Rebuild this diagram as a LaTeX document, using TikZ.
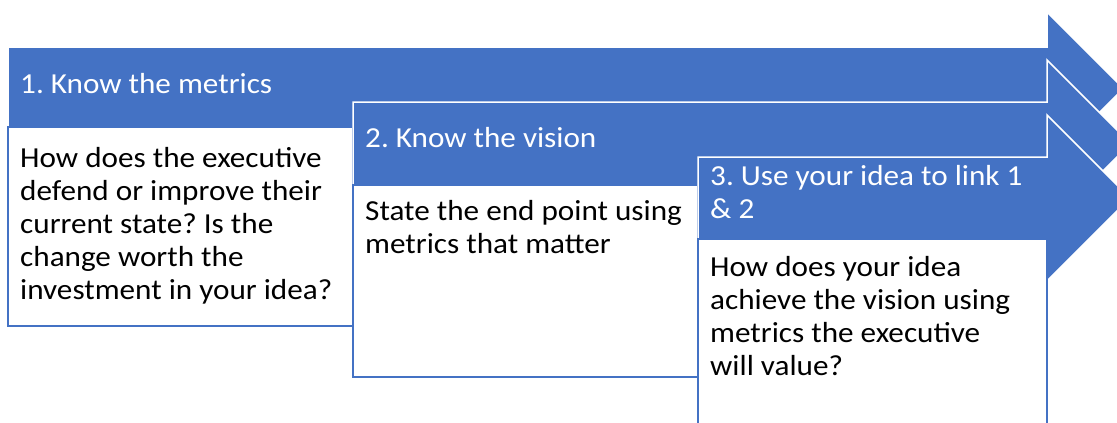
\documentclass[tikz,border=0pt]{standalone}
\usepackage{fontspec}
\setmainfont{Carlito}[FakeStretch=1.075]
\definecolor{officeblue}{HTML}{4472C4}
\frenchspacing

\begin{document}
\begin{tikzpicture}[x=1pt, y=-1pt,
            band/.style={
                fill=officeblue,
                draw=white,
                line width=1.5pt
                },
            descbox/.style={
                fill=white,
                draw=officeblue,
                line width=2pt
                },
            every node/.style={
                inner sep=0pt,
                align=left,
                anchor=base west,
                font=\fontsize{29}{33}\selectfont
                },
            headtext/.style={text=white},
            bodytext/.style={text=black}]

        \clip (0,0) rectangle (1117,423);
        \fill[white] (0,0) rectangle (1117,423);

        % step 1 (multi-line nodes sit on their last baseline)
        \draw[band] (8,47) -- (1047,47) -- (1047,12) -- (1123.5,88.5) -- (1047,165) -- (1047,129) -- (8,129) -- cycle;
        \draw[descbox] (8,127) rectangle (353,326);
        \node[headtext] (h1) at (20,93) {1. Know the metrics};
        \node[bodytext] (b1) at (20,299) {How does the executive\\defend or improve their\\current state? Is the\\change worth the\\investment in your idea?};

        % step 2
        \draw[band] (353,102) -- (1047,102) -- (1047,60) -- (1130.5,143.5) -- (1047,227) -- (1047,185) -- (353,185) -- cycle;
        \draw[descbox] (353,185) rectangle (698,377);
        \node[headtext] (h2) at (365,147) {2. Know the vision};
        \node[bodytext] (b2) at (365,253) {State the end point using\\metrics that matter};

        % step 3
        \draw[band] (698,157) -- (1047,157) -- (1047,115) -- (1130,198) -- (1047,281) -- (1047,239) -- (698,239) -- cycle;
        \draw[descbox] (698,239) rectangle (1047,440);
        \node[headtext] (h3) at (710,218) {3. Use your idea to link 1\\\& 2};
        \node[bodytext] (b3) at (710,375) {How does your idea\\achieve the vision using\\metrics the executive\\will value?};

    \end{tikzpicture}
\end{document}
